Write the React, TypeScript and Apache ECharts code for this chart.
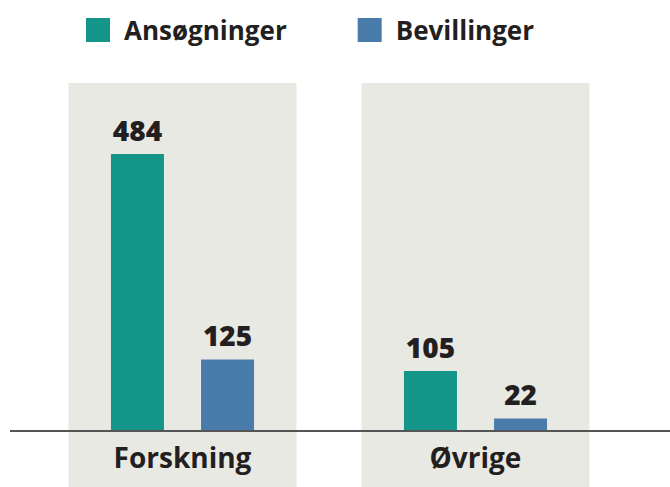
import React, { useEffect, useRef } from "react";
import * as echarts from "echarts";

const categories = ["Forskning", "Øvrige"];
const ansogninger = [484, 105];
const bevillinger = [125, 22];
const seriesNames = ["Ansøgninger", "Bevillinger"];

const GREEN = "#13958A";
const BLUE = "#4A7CAB";
const PANEL = "#E9E9E4";
const FONT = "'Open Sans', Lato, sans-serif";

export default function App() {
  const ref = useRef<HTMLDivElement>(null);
  useEffect(() => {
    if (!ref.current) return;
    const chart = echarts.init(ref.current, null, { renderer: "svg" });
    const labelStyle = {
      show: true,
      position: "top" as const,
      distance: 10,
      fontSize: 28,
      fontWeight: 800,
      fontFamily: FONT,
      color: "#231F20",
    };
    chart.setOption({
      animation: false,
      backgroundColor: "#fff",
      legend: {
        left: 86,
        top: 17,
        padding: 0,
        itemWidth: 24,
        itemHeight: 24,
        itemGap: 71,
        icon: "rect",
        textStyle: {
          fontSize: 26,
          fontWeight: 700,
          fontFamily: FONT,
          color: "#231F20",
          padding: [0, 0, 0, 9],
        },
        data: seriesNames,
      },
      grid: { left: 36, right: 48, top: 83, bottom: 56 },
      xAxis: {
        type: "category",
        data: categories,
        axisLine: { show: false },
        axisTick: { show: false },
        axisLabel: {
          fontSize: 28,
          fontWeight: 700,
          fontFamily: FONT,
          color: "#231F20",
          margin: 12,
        },
        z: 10,
      },
      yAxis: { type: "value", min: 0, max: 608, show: false, splitLine: { show: false } },
      series: [
        {
          name: seriesNames[0],
          type: "bar",
          data: ansogninger,
          barWidth: 53,
          barGap: "70%",
          itemStyle: { color: GREEN },
          label: labelStyle,
          z: 5,
        },
        {
          name: seriesNames[1],
          type: "bar",
          data: bevillinger,
          barWidth: 53,
          itemStyle: { color: BLUE },
          label: labelStyle,
          z: 5,
        },
      ],
    });
    const axisY = chart.convertToPixel({ yAxisIndex: 0 }, 0) as number;
    const graphics: any[] = categories.map((c) => {
      const cx = chart.convertToPixel({ xAxisIndex: 0 }, c) as number;
      return {
        type: "rect",
        shape: { x: cx - 114, y: 83, width: 228, height: 487 - 83 },
        style: { fill: PANEL },
        z: -10,
        silent: true,
      };
    });
    graphics.push({
      type: "line",
      shape: { x1: 10, y1: axisY, x2: 670, y2: axisY },
      style: { stroke: "#555", lineWidth: 2 },
      z: 100,
      silent: true,
    });
    chart.setOption({ graphic: graphics });
    return () => chart.dispose();
  }, []);
  return <div ref={ref} style={{ width: 670, height: 487, position: "fixed", left: 0, top: 0 }} />;
}
